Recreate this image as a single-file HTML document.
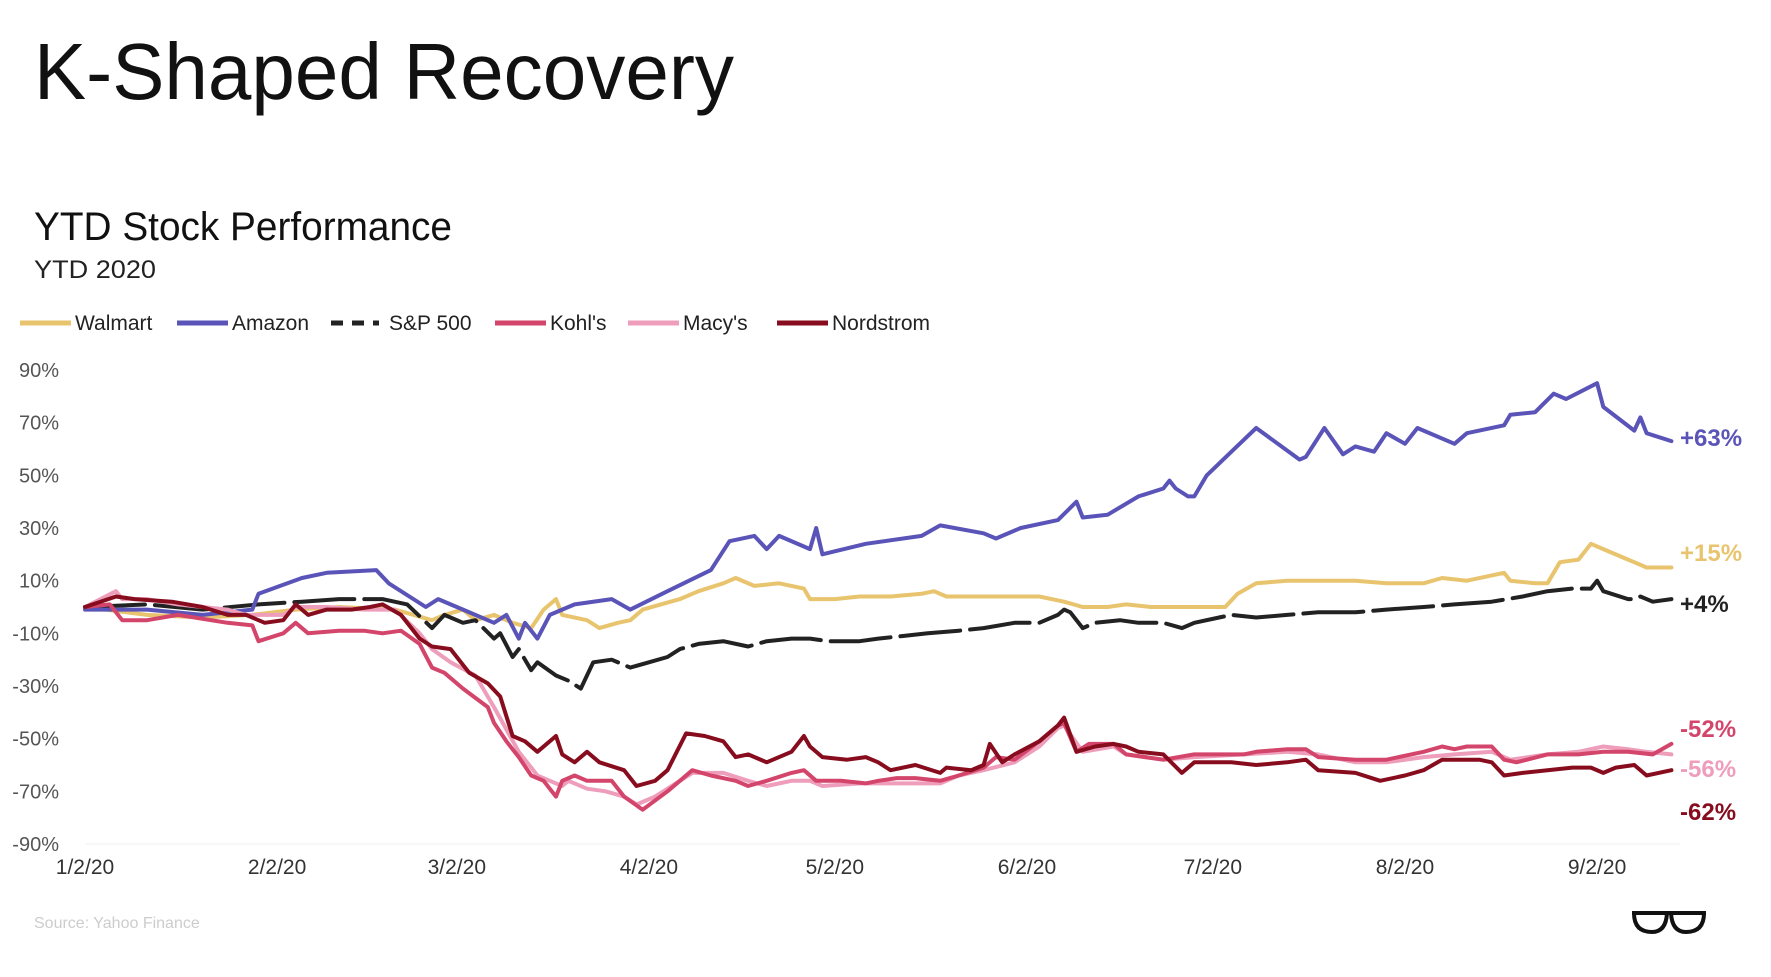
<!DOCTYPE html>
<html><head><meta charset="utf-8"><style>
html,body{margin:0;padding:0;background:#fff;}
svg{display:block;font-family:"Liberation Sans",sans-serif;}
</style></head><body>
<svg id="chart" width="1771" height="977" viewBox="0 0 1771 977" xmlns="http://www.w3.org/2000/svg">
<rect width="1771" height="977" fill="#fff"/>
<text x="34" y="99" font-size="80" fill="#111" textLength="700" lengthAdjust="spacingAndGlyphs">K-Shaped Recovery</text>
<text x="34" y="240" font-size="40" fill="#111" textLength="418" lengthAdjust="spacingAndGlyphs">YTD Stock Performance</text>
<text x="34" y="278" font-size="25" fill="#222" textLength="122" lengthAdjust="spacingAndGlyphs">YTD 2020</text>
<g id="legend"></g>
<g id="axes"></g>
<g id="series"></g>
<g id="endlabels"></g>
<text x="34" y="928" font-size="16" fill="#ccc">Source: Yahoo Finance</text>
<g fill="none" stroke="#111" stroke-width="4">
<path d="M1632 913 L1706 913"/>
<path d="M1634 913 Q1634 932 1652 932 Q1666 932 1667 913"/>
<path d="M1671 913 Q1672 932 1686 932 Q1704 932 1704 913"/>
</g>
</svg>
<script>
// Chart data (day index from Jan 2 2020, YTD % change)
const xTickLabels = ["1/2/20","2/2/20","3/2/20","4/2/20","5/2/20","6/2/20","7/2/20","8/2/20","9/2/20"];
const xTickDays = [0,31,60,91,121,152,182,213,244];
const yTickValues = [90,70,50,30,10,-10,-30,-50,-70,-90];
const seriesNames = ["Walmart","Amazon","S&P 500","Kohl's","Macy's","Nordstrom"];
const endLabels = ["+15%","+63%","+4%","-52%","-56%","-62%"];
const amazon = [[0,-1],[10,-1],[19,-3],[27,-1],[28,5],[35,11],[39,13],[47,14],[49,9],[55,0],[57,3],[61,-1],[66,-6],[68,-3],[70,-12],[71,-6],[73,-12],[75,-3],[79,1],[85,3],[88,-1],[94,6],[101,14],[104,25],[108,27],[110,22],[112,27],[117,22],[118,30],[119,20],[126,24],[135,27],[138,31],[145,28],[147,26],[151,30],[157,33],[160,40],[161,34],[165,35],[170,42],[174,45],[175,48],[176,45],[178,42],[179,42],[181,50],[185,59],[189,68],[196,56],[197,57],[200,68],[203,58],[205,61],[208,59],[210,66],[213,62],[215,68],[221,62],[223,66],[229,69],[230,73],[234,74],[237,81],[239,79],[244,85],[245,76],[250,67],[251,72],[252,66],[256,63]];
const walmart = [[0,0],[10,-3],[19,-4],[27,-3],[34,-1],[41,0],[50,-1],[56,-5],[58,-3],[61,-1],[63,-5],[66,-3],[69,-6],[72,-8],[74,-1],[76,3],[77,-3],[81,-5],[83,-8],[86,-6],[88,-5],[90,-1],[96,3],[99,6],[103,9],[105,11],[108,8],[112,9],[116,7],[117,3],[121,3],[125,4],[130,4],[135,5],[137,6],[139,4],[145,4],[150,4],[154,4],[158,2],[161,0],[165,0],[168,1],[172,0],[176,0],[179,0],[184,0],[186,5],[189,9],[194,10],[199,10],[205,10],[210,9],[216,9],[219,11],[223,10],[227,12],[229,13],[230,10],[234,9],[236,9],[238,17],[241,18],[243,24],[245,22],[249,18],[250,17],[252,15],[256,15]];
const sp500 = [[0,0],[10,1],[19,-1],[28,1],[35,2],[41,3],[48,3],[52,1],[56,-8],[58,-3],[61,-6],[63,-5],[66,-12],[67,-10],[69,-19],[70,-16],[72,-24],[73,-21],[76,-26],[78,-28],[80,-31],[82,-21],[85,-20],[87,-22],[88,-23],[91,-21],[94,-19],[96,-16],[99,-14],[103,-13],[107,-15],[110,-13],[114,-12],[117,-12],[120,-13],[125,-13],[128,-12],[132,-11],[136,-10],[141,-9],[145,-8],[150,-6],[154,-6],[157,-3],[158,-1],[159,-2],[161,-8],[163,-6],[167,-5],[170,-6],[174,-6],[177,-8],[179,-6],[183,-4],[185,-3],[189,-4],[194,-3],[199,-2],[205,-2],[210,-1],[216,0],[221,1],[227,2],[232,4],[236,6],[240,7],[243,7],[244,10],[245,6],[249,3],[250,3],[251,4],[253,2],[256,3]];
const kohls = [[0,0],[4,1],[6,-5],[10,-5],[15,-3],[23,-6],[27,-7],[28,-13],[32,-10],[34,-6],[36,-10],[41,-9],[45,-9],[48,-10],[51,-9],[54,-14],[56,-23],[58,-25],[61,-31],[65,-38],[66,-44],[68,-51],[70,-57],[72,-64],[74,-66],[76,-72],[77,-66],[79,-64],[81,-66],[85,-66],[87,-72],[90,-77],[94,-70],[96,-66],[98,-62],[101,-64],[105,-66],[107,-68],[110,-66],[114,-63],[116,-62],[118,-66],[122,-66],[126,-67],[128,-66],[131,-65],[134,-65],[138,-66],[141,-64],[145,-61],[147,-57],[150,-58],[154,-51],[157,-45],[158,-44],[160,-55],[162,-52],[166,-52],[168,-56],[174,-58],[179,-56],[187,-56],[189,-55],[194,-54],[197,-54],[199,-57],[205,-58],[210,-58],[216,-55],[219,-53],[221,-54],[223,-53],[227,-53],[229,-58],[231,-59],[236,-56],[241,-56],[245,-55],[249,-55],[253,-56],[256,-52]];
const macys = [[0,0],[5,6],[6,3],[10,3],[15,1],[23,-1],[26,-3],[32,-3],[34,0],[39,0],[45,-1],[50,-1],[54,-10],[56,-16],[59,-21],[63,-26],[66,-38],[70,-55],[73,-64],[75,-66],[77,-68],[78,-66],[81,-69],[84,-70],[87,-72],[89,-75],[92,-72],[96,-66],[98,-63],[103,-63],[107,-66],[110,-68],[114,-66],[117,-66],[119,-68],[125,-67],[130,-67],[136,-67],[138,-67],[141,-64],[145,-62],[150,-59],[154,-53],[157,-46],[158,-45],[161,-55],[166,-53],[168,-56],[174,-58],[179,-57],[187,-56],[194,-55],[199,-56],[205,-59],[210,-59],[216,-57],[221,-56],[227,-55],[230,-58],[236,-56],[241,-55],[245,-53],[249,-54],[252,-55],[256,-56]];
const nordstrom = [[0,0],[5,4],[8,3],[14,2],[19,0],[23,-3],[26,-3],[29,-6],[32,-5],[34,1],[36,-3],[39,-1],[43,-1],[46,0],[48,1],[51,-3],[54,-12],[56,-15],[59,-16],[62,-25],[65,-29],[67,-34],[69,-49],[71,-51],[73,-55],[76,-49],[77,-56],[79,-59],[81,-55],[83,-59],[87,-62],[89,-68],[92,-66],[94,-62],[97,-48],[100,-49],[103,-51],[105,-57],[107,-56],[110,-59],[114,-55],[116,-49],[117,-53],[119,-57],[123,-58],[126,-57],[128,-59],[130,-62],[134,-60],[138,-63],[139,-61],[143,-62],[145,-60],[146,-52],[148,-59],[150,-56],[154,-51],[157,-45],[158,-42],[160,-55],[163,-53],[166,-52],[168,-53],[170,-55],[174,-56],[177,-63],[179,-59],[185,-59],[189,-60],[194,-59],[197,-58],[199,-62],[205,-63],[209,-66],[213,-64],[216,-62],[219,-58],[225,-58],[227,-59],[229,-64],[232,-63],[236,-62],[240,-61],[243,-61],[245,-63],[247,-61],[250,-60],[252,-64],[256,-62]];
const allSeries = [walmart, amazon, sp500, kohls, macys, nordstrom];
const colors = ["#e9c46e","#5a54b8","#222222","#d3456b","#ee9dbb","#870d1e"];

const NS = "http://www.w3.org/2000/svg";
const X0 = 85, PX_PER_DAY = 6.197, Y0 = 607, PX_PER_PCT = 2.633;
function xScale(d){ return X0 + d * PX_PER_DAY; }
function yScale(v){ return Y0 - v * PX_PER_PCT; }
function mk(tag, attrs, parent){ const e = document.createElementNS(NS, tag); for (const k in attrs) e.setAttribute(k, attrs[k]); parent.appendChild(e); return e; }

const axes = document.getElementById('axes');
mk('line', {x1:X0, x2:1680, y1:yScale(-90), y2:yScale(-90), stroke:'#f0f0f0', 'stroke-width':1}, axes);
yTickValues.forEach(v => {
  const t = mk('text', {x:59, y:yScale(v)+7, 'font-size':20, fill:'#555', 'text-anchor':'end'}, axes);
  
  
  t.textContent = v + '%';
});
xTickLabels.forEach((lab, i) => {
  const t = mk('text', {x:xScale(xTickDays[i]), y:874, 'font-size':21, fill:'#333', 'text-anchor':'middle'}, axes);
  
  
  t.textContent = lab;
});

const sg = document.getElementById('series');
const drawOrder = [0,2,1,4,3,5];
drawOrder.forEach(i => {
  const pts = allSeries[i].map(p => xScale(p[0]).toFixed(1) + ',' + yScale(p[1]).toFixed(1)).join(' ');
  const attrs = {points:pts, fill:'none', stroke:colors[i], 'stroke-width':4, 'stroke-linejoin':'round', 'stroke-linecap':'round'};
  if (i === 2) attrs['stroke-dasharray'] = '60 10';
  const pl = mk('polyline', attrs, sg);
  
  
});

const eg = document.getElementById('endlabels');
const labelY = [561, 446, 612, 737, 777, 820];
allSeries.forEach((s, i) => {
  const t = mk('text', {x:1680, y:labelY[i], 'font-size':24, 'font-weight':'bold', fill:colors[i]}, eg);
  
  
  t.textContent = endLabels[i];
});

const lg = document.getElementById('legend');
const legX = [20, 177, 331, 495, 628, 777];
seriesNames.forEach((n, i) => {
  const g = mk('g', {}, lg);
  
  
  const la = {x1:legX[i], x2:legX[i]+51, y1:323, y2:323, stroke:colors[i], 'stroke-width':5};
  if (i === 2) { la['stroke-dasharray'] = '12 9'; la.x2 = legX[i]+48; }
  mk('line', la, g);
  const t = mk('text', {x:legX[i] + (i===2 ? 58 : 55), y:330, 'font-size':21, fill:'#222'}, g);
  t.textContent = n;
});
</script>
</body></html>
